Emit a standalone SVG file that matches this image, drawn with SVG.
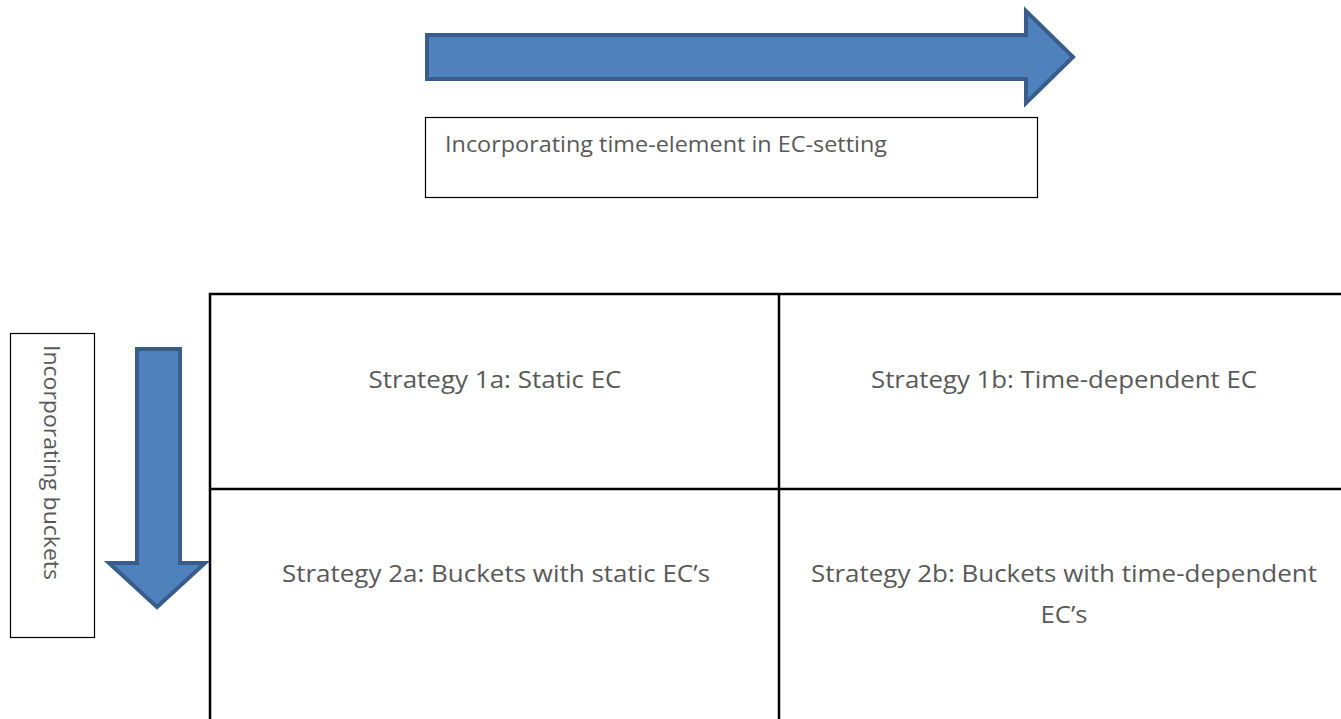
<svg xmlns="http://www.w3.org/2000/svg" width="1341" height="719" viewBox="0 0 1341 719">
  <style>
    .arrow { fill: #4f81bd; stroke: #385d8a; stroke-width: 4; stroke-linejoin: miter; }
    .box { fill: #ffffff; stroke: #000000; stroke-width: 1.2; }
    .grid { fill: none; stroke: #000000; stroke-width: 2.5; }
    .label { font-family: "Open Sans", "Liberation Sans", sans-serif; fill: #595959; }
    .cell { font-size: 24.5px; text-anchor: middle; }
  </style>

  <!-- horizontal axis: time element -->
  <g id="time-arrow">
    <polygon class="arrow" points="427,35 1026,35 1026,11 1073,57 1026,103 1026,79 427,79"/>
  </g>
  <g id="time-label">
    <rect class="box" x="425.5" y="117.5" width="612" height="80"/>
    <text class="label" x="445" y="152" font-size="22" textLength="442" lengthAdjust="spacingAndGlyphs">Incorporating time-element in EC-setting</text>
  </g>

  <!-- vertical axis: buckets -->
  <g id="buckets-label">
    <rect class="box" x="10.5" y="333.5" width="84" height="304"/>
    <text class="label" transform="translate(44,345) rotate(90)" font-size="22" textLength="235" lengthAdjust="spacingAndGlyphs">Incorporating buckets</text>
  </g>
  <g id="buckets-arrow">
    <polygon class="arrow" points="137,349 180,349 180,563 205,563 157,607 109,563 137,563"/>
  </g>

  <!-- strategy matrix -->
  <g id="matrix">
    <path class="grid" d="M210,719 V294 H1341 M779,294 V719 M210,489 H1341"/>
  </g>
  <g id="strategy-1a">
    <text class="label cell" x="495" y="388" textLength="253" lengthAdjust="spacingAndGlyphs">Strategy 1a: Static EC</text>
  </g>
  <g id="strategy-1b">
    <text class="label cell" x="1064" y="388" textLength="386" lengthAdjust="spacingAndGlyphs">Strategy 1b: Time-dependent EC</text>
  </g>
  <g id="strategy-2a">
    <text class="label cell" x="496" y="582" textLength="428" lengthAdjust="spacingAndGlyphs">Strategy 2a: Buckets with static EC’s</text>
  </g>
  <g id="strategy-2b">
    <text class="label cell" x="1064" y="582" textLength="506" lengthAdjust="spacingAndGlyphs">Strategy 2b: Buckets with time-dependent</text>
    <text class="label cell" x="1064" y="623" textLength="47" lengthAdjust="spacingAndGlyphs">EC’s</text>
  </g>
</svg>
